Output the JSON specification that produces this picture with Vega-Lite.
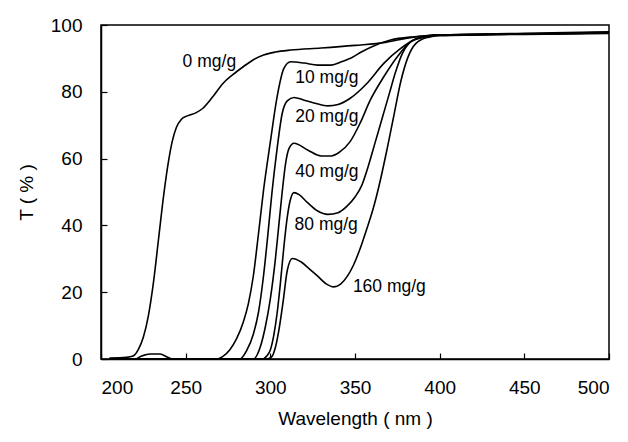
{
  "$schema": "https://vega.github.io/schema/vega-lite/v6.json",
  "autosize": "none",
  "width": 508,
  "height": 334,
  "padding": {"left": 101, "top": 25, "right": 19, "bottom": 83},
  "background": "white",
  "config": {
    "font": "Liberation Sans",
    "view": {"stroke": "black", "strokeWidth": 1.5},
    "axis": {
      "grid": false,
      "domainColor": "black",
      "domainWidth": 1.5,
      "tickColor": "black",
      "tickWidth": 1.2,
      "tickSize": -6,
      "labelColor": "black",
      "labelFontSize": 19,
      "titleFontSize": 19,
      "titleFontWeight": "normal",
      "titleColor": "black"
    }
  },
  "datasets": {
    "curves": [
      {"s": "0", "w": 205, "t": 0.3}, {"s": "0", "w": 215, "t": 0.5}, {"s": "0", "w": 219, "t": 0.9}, {"s": "0", "w": 222, "t": 2.8}, {"s": "0", "w": 225, "t": 6.5}, {"s": "0", "w": 228, "t": 13}, {"s": "0", "w": 231, "t": 23}, {"s": "0", "w": 234, "t": 36}, {"s": "0", "w": 237, "t": 49}, {"s": "0", "w": 240, "t": 59.6}, {"s": "0", "w": 242, "t": 65}, {"s": "0", "w": 244.5, "t": 69.3}, {"s": "0", "w": 247.5, "t": 71.8}, {"s": "0", "w": 251, "t": 72.8}, {"s": "0", "w": 256, "t": 73.7}, {"s": "0", "w": 260, "t": 75}, {"s": "0", "w": 266, "t": 78.5}, {"s": "0", "w": 272, "t": 82.5}, {"s": "0", "w": 278, "t": 85.2}, {"s": "0", "w": 284, "t": 87.5}, {"s": "0", "w": 290, "t": 89.6}, {"s": "0", "w": 296, "t": 91}, {"s": "0", "w": 303, "t": 91.9}, {"s": "0", "w": 312, "t": 92.5}, {"s": "0", "w": 330, "t": 93.1}, {"s": "0", "w": 350, "t": 93.9}, {"s": "0", "w": 368, "t": 94.8}, {"s": "0", "w": 380, "t": 96}, {"s": "0", "w": 390, "t": 96.7}, {"s": "0", "w": 400, "t": 97}, {"s": "0", "w": 450, "t": 97.3}, {"s": "0", "w": 500, "t": 97.8},

      {"s": "10", "w": 205, "t": 0}, {"s": "10", "w": 220, "t": 0}, {"s": "10", "w": 224, "t": 0.9}, {"s": "10", "w": 229, "t": 1.5}, {"s": "10", "w": 235, "t": 1.5}, {"s": "10", "w": 239, "t": 0.6}, {"s": "10", "w": 242, "t": 0}, {"s": "10", "w": 268, "t": 0}, {"s": "10", "w": 272, "t": 0.8}, {"s": "10", "w": 276, "t": 2.7}, {"s": "10", "w": 280, "t": 6}, {"s": "10", "w": 284, "t": 11}, {"s": "10", "w": 287, "t": 16.5}, {"s": "10", "w": 290, "t": 25}, {"s": "10", "w": 293, "t": 37.5}, {"s": "10", "w": 296, "t": 50.6}, {"s": "10", "w": 300, "t": 65}, {"s": "10", "w": 304, "t": 78.5}, {"s": "10", "w": 308, "t": 87}, {"s": "10", "w": 312, "t": 89}, {"s": "10", "w": 320, "t": 88.6}, {"s": "10", "w": 328, "t": 88}, {"s": "10", "w": 336, "t": 88}, {"s": "10", "w": 342, "t": 89}, {"s": "10", "w": 348, "t": 90.2}, {"s": "10", "w": 354, "t": 92}, {"s": "10", "w": 360, "t": 93.5}, {"s": "10", "w": 371, "t": 95.5}, {"s": "10", "w": 385, "t": 96.5}, {"s": "10", "w": 400, "t": 97}, {"s": "10", "w": 450, "t": 97.5}, {"s": "10", "w": 500, "t": 98},

      {"s": "20", "w": 205, "t": 0}, {"s": "20", "w": 282, "t": 0}, {"s": "20", "w": 286, "t": 2.5}, {"s": "20", "w": 290, "t": 7.5}, {"s": "20", "w": 293, "t": 14}, {"s": "20", "w": 296, "t": 25}, {"s": "20", "w": 298.5, "t": 37}, {"s": "20", "w": 301, "t": 50}, {"s": "20", "w": 304, "t": 63}, {"s": "20", "w": 307, "t": 73.5}, {"s": "20", "w": 310, "t": 77.3}, {"s": "20", "w": 314, "t": 78.3}, {"s": "20", "w": 320, "t": 77.5}, {"s": "20", "w": 327, "t": 76.5}, {"s": "20", "w": 334, "t": 75.8}, {"s": "20", "w": 340, "t": 76.2}, {"s": "20", "w": 347, "t": 78}, {"s": "20", "w": 357, "t": 82.5}, {"s": "20", "w": 367, "t": 88.5}, {"s": "20", "w": 377, "t": 93}, {"s": "20", "w": 387, "t": 96}, {"s": "20", "w": 400, "t": 97}, {"s": "20", "w": 450, "t": 97.3}, {"s": "20", "w": 500, "t": 97.6},

      {"s": "40", "w": 205, "t": 0}, {"s": "40", "w": 290, "t": 0}, {"s": "40", "w": 294, "t": 3.5}, {"s": "40", "w": 297, "t": 9.5}, {"s": "40", "w": 300, "t": 18}, {"s": "40", "w": 303, "t": 30}, {"s": "40", "w": 305, "t": 40}, {"s": "40", "w": 307, "t": 50}, {"s": "40", "w": 309, "t": 58.5}, {"s": "40", "w": 311, "t": 63}, {"s": "40", "w": 314, "t": 64.6}, {"s": "40", "w": 322, "t": 62.6}, {"s": "40", "w": 330, "t": 60.8}, {"s": "40", "w": 336, "t": 60.8}, {"s": "40", "w": 341, "t": 62}, {"s": "40", "w": 347, "t": 65}, {"s": "40", "w": 353, "t": 70.6}, {"s": "40", "w": 359, "t": 77.5}, {"s": "40", "w": 367, "t": 84.5}, {"s": "40", "w": 375, "t": 90.5}, {"s": "40", "w": 383, "t": 95}, {"s": "40", "w": 392, "t": 96.5}, {"s": "40", "w": 400, "t": 97}, {"s": "40", "w": 450, "t": 97.3}, {"s": "40", "w": 500, "t": 97.6},

      {"s": "80", "w": 205, "t": 0}, {"s": "80", "w": 295, "t": 0}, {"s": "80", "w": 298, "t": 1}, {"s": "80", "w": 300, "t": 2.7}, {"s": "80", "w": 302, "t": 7}, {"s": "80", "w": 304, "t": 13.7}, {"s": "80", "w": 306, "t": 23}, {"s": "80", "w": 308, "t": 33.6}, {"s": "80", "w": 310, "t": 42.5}, {"s": "80", "w": 312, "t": 48}, {"s": "80", "w": 314, "t": 49.8}, {"s": "80", "w": 317, "t": 49.2}, {"s": "80", "w": 322, "t": 46.8}, {"s": "80", "w": 328, "t": 44.3}, {"s": "80", "w": 334, "t": 43.3}, {"s": "80", "w": 340, "t": 43.8}, {"s": "80", "w": 345, "t": 45.6}, {"s": "80", "w": 350, "t": 48.5}, {"s": "80", "w": 354, "t": 52}, {"s": "80", "w": 358, "t": 58}, {"s": "80", "w": 362, "t": 65}, {"s": "80", "w": 366, "t": 72}, {"s": "80", "w": 370, "t": 79}, {"s": "80", "w": 374, "t": 86}, {"s": "80", "w": 378, "t": 91.5}, {"s": "80", "w": 383, "t": 95}, {"s": "80", "w": 390, "t": 96.5}, {"s": "80", "w": 400, "t": 97}, {"s": "80", "w": 450, "t": 97.3}, {"s": "80", "w": 500, "t": 97.6},

      {"s": "160", "w": 205, "t": 0}, {"s": "160", "w": 298, "t": 0}, {"s": "160", "w": 301, "t": 0.8}, {"s": "160", "w": 303, "t": 3.5}, {"s": "160", "w": 305, "t": 8.5}, {"s": "160", "w": 307.5, "t": 17}, {"s": "160", "w": 310, "t": 26.5}, {"s": "160", "w": 313, "t": 30.1}, {"s": "160", "w": 318, "t": 29.1}, {"s": "160", "w": 323, "t": 27}, {"s": "160", "w": 328, "t": 24.8}, {"s": "160", "w": 333, "t": 22.5}, {"s": "160", "w": 337.5, "t": 21.6}, {"s": "160", "w": 341.5, "t": 22.4}, {"s": "160", "w": 345.5, "t": 24.8}, {"s": "160", "w": 349, "t": 28}, {"s": "160", "w": 353, "t": 33}, {"s": "160", "w": 357, "t": 39}, {"s": "160", "w": 361, "t": 45.5}, {"s": "160", "w": 365, "t": 53.6}, {"s": "160", "w": 369, "t": 63}, {"s": "160", "w": 373, "t": 73}, {"s": "160", "w": 377, "t": 83}, {"s": "160", "w": 381, "t": 90}, {"s": "160", "w": 386, "t": 94.5}, {"s": "160", "w": 393, "t": 96.3}, {"s": "160", "w": 400, "t": 96.8}, {"s": "160", "w": 450, "t": 97.2}, {"s": "160", "w": 500, "t": 97.5}
    ],
    "labels": [
      {"label": "0 mg/g", "w": 264, "t": 89},
      {"label": "10 mg/g", "w": 333.4, "t": 84},
      {"label": "20 mg/g", "w": 333.4, "t": 72.4},
      {"label": "40 mg/g", "w": 333.4, "t": 56.1},
      {"label": "80 mg/g", "w": 333, "t": 40.1},
      {"label": "160 mg/g", "w": 370.3, "t": 21.5}
    ]
  },
  "layer": [
    {
      "data": {"name": "curves"},
      "mark": {"type": "line", "color": "black", "strokeWidth": 1.6, "interpolate": "monotone", "clip": true},
      "encoding": {
        "x": {
          "field": "w", "type": "quantitative",
          "scale": {"domain": [200, 500], "nice": false, "zero": false},
          "axis": {"values": [200, 250, 300, 350, 400, 450, 500], "title": "Wavelength ( nm )", "labelPadding": 25, "titlePadding": 12}
        },
        "y": {
          "field": "t", "type": "quantitative",
          "scale": {"domain": [0, 100], "nice": false},
          "axis": {"values": [0, 20, 40, 60, 80, 100], "title": "T ( % )", "labelPadding": 25, "titlePadding": 14}
        },
        "detail": {"field": "s", "type": "nominal"},
        "order": {"field": "w", "type": "quantitative"}
      }
    },
    {
      "data": {"name": "labels"},
      "mark": {"type": "text", "fontSize": 17.5, "color": "black", "align": "center", "baseline": "middle"},
      "encoding": {
        "x": {"field": "w", "type": "quantitative"},
        "y": {"field": "t", "type": "quantitative"},
        "text": {"field": "label", "type": "nominal"}
      }
    }
  ]
}
